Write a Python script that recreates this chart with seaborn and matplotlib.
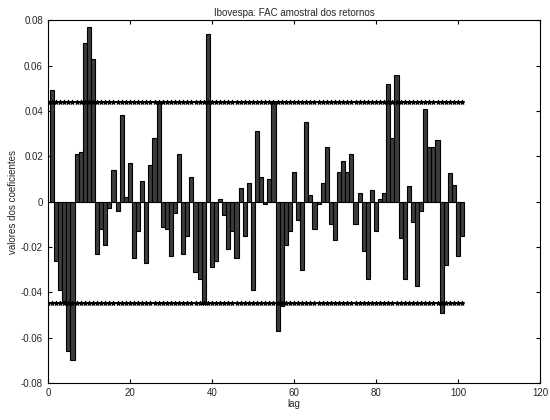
import numpy as np
import pandas as pd
import matplotlib
matplotlib.use("Agg")
import matplotlib.pyplot as plt
import seaborn as sns

# --- data ---
acf_values = [
    0.049, -0.026, -0.039, -0.044, -0.066, -0.070, 0.021, 0.022, 0.070, 0.077,
    0.063, -0.023, -0.012, -0.019, -0.003, 0.014, -0.004, 0.038, 0.002, 0.017,
    -0.025, -0.013, 0.009, -0.027, 0.016, 0.028, 0.044, -0.011, -0.012, -0.024,
    -0.005, 0.021, -0.023, -0.015, 0.011, -0.031, -0.034, -0.045, 0.074, -0.029,
    -0.026, 0.001, -0.006, -0.021, -0.013, -0.025, 0.006, -0.015, 0.008, -0.039,
    0.031, 0.011, -0.001, 0.010, 0.044, -0.057, -0.046, -0.019, -0.013, 0.013,
    -0.008, -0.030, 0.035, 0.003, -0.012, -0.001, 0.008, 0.024, -0.010, -0.017,
    0.013, 0.018, 0.013, 0.021, -0.010, 0.004, -0.022, -0.034, 0.005, -0.013,
    0.001, 0.004, 0.052, 0.028, 0.056, -0.016, -0.034, 0.007, -0.009, -0.037,
    -0.004, 0.041, 0.024, 0.024, 0.027, -0.049, -0.028, 0.0125, 0.0075, -0.024,
    -0.015,
]
lags = list(range(1, len(acf_values) + 1))

ci_lags = list(range(0, 102))
ci_upper = [0.044] * len(ci_lags)
ci_lower = [-0.0445] * len(ci_lags)

title = "Ibovespa: FAC amostral dos retornos"
xlabel = "lag"
ylabel = "valores dos coeficientes"
xticks = [0, 20, 40, 60, 80, 100, 120]
yticks = [-0.08, -0.06, -0.04, -0.02, 0, 0.02, 0.04, 0.06, 0.08]

sns.set_style("white")
plt.rcParams["font.family"] = ["Liberation Sans", "DejaVu Sans"]

fig = plt.figure(figsize=(5.5, 4.2), dpi=100)
ax = fig.add_axes([0.087, 0.088, 0.895, 0.864])

df = pd.DataFrame({"lag": lags, "acf": acf_values})
sns.barplot(data=df, x="lag", y="acf", native_scale=True, width=1.0,
            color="#3c3c3c", edgecolor="black", linewidth=0.8,
            errorbar=None, ax=ax, saturation=1)

ci_df = pd.DataFrame({"lag": ci_lags + ci_lags,
                      "val": ci_upper + ci_lower,
                      "band": ["up"] * len(ci_lags) + ["low"] * len(ci_lags)})
for band in ["up", "low"]:
    sub = ci_df[ci_df["band"] == band]
    sns.lineplot(data=sub, x="lag", y="val", color="black", linewidth=1.2,
                 marker="*", markersize=3.5, markeredgecolor="black",
                 ax=ax, legend=False)

ax.set_xlim(0, 120)
ax.set_ylim(-0.08, 0.08)
ax.set_xticks(xticks)
ax.set_yticks(yticks)
ax.set_yticklabels(["-0.08", "-0.06", "-0.04", "-0.02", "0", "0.02", "0.04", "0.06", "0.08"])
ax.tick_params(axis="both", direction="in", length=3, labelsize=7,
               top=True, right=True, bottom=True, left=True, color="black")
for s in ax.spines.values():
    s.set_visible(True)
    s.set_color("black")
    s.set_linewidth(0.8)

ax.set_title(title, fontsize=7, pad=3)
ax.set_xlabel(xlabel, fontsize=7, labelpad=1)
ax.set_ylabel(ylabel, fontsize=7, labelpad=2)

fig.savefig("out.png", dpi=100)
